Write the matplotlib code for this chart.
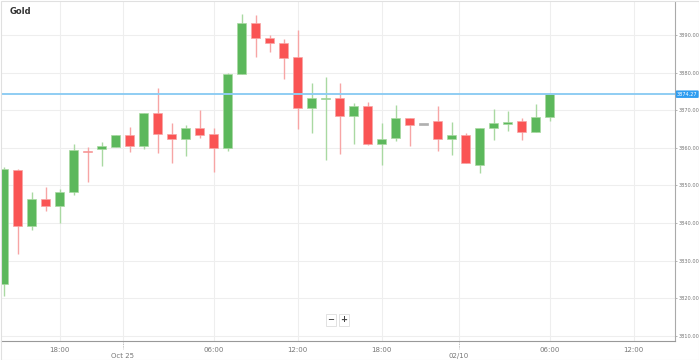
import numpy as np
import matplotlib
matplotlib.use("Agg")
import matplotlib.pyplot as plt
from matplotlib.patches import Rectangle

# hourly candles, Gold
opens = [3823.8, 3854.1, 3839.3, 3846.3, 3844.5, 3848.2, 3859.1, 3859.7, 3860.3, 3863.3,
         3860.6, 3869.2, 3863.6, 3862.3, 3865.3, 3863.8, 3859.9, 3879.6, 3893.2, 3889.3,
         3888.0, 3884.1, 3870.7, 3872.9, 3873.2, 3868.6, 3871.2, 3861.0, 3862.5, 3867.9,
         3866.1, 3867.1, 3862.3, 3863.4, 3855.5, 3865.2, 3866.3, 3867.1, 3864.2, 3868.2]
highs = [3854.9, 3854.4, 3848.3, 3849.5, 3849.2, 3861.0, 3860.3, 3861.6, 3863.4, 3865.5,
         3869.2, 3875.9, 3866.7, 3866.0, 3870.1, 3865.2, 3880.0, 3895.6, 3895.4, 3890.0,
         3888.9, 3891.3, 3877.3, 3878.9, 3877.2, 3871.8, 3872.2, 3866.7, 3871.4, 3868.0,
         3866.1, 3871.1, 3867.0, 3864.0, 3865.4, 3870.3, 3869.8, 3868.0, 3871.7, 3874.3]
lows = [3820.6, 3831.7, 3838.2, 3843.2, 3840.1, 3847.5, 3851.0, 3855.2, 3860.2, 3859.0,
        3859.6, 3858.6, 3855.9, 3857.9, 3862.5, 3853.7, 3859.3, 3879.6, 3884.1, 3885.6,
        3878.3, 3864.9, 3864.0, 3856.8, 3858.4, 3861.0, 3860.8, 3855.4, 3861.8, 3860.6,
        3866.1, 3859.2, 3858.0, 3855.9, 3853.4, 3862.0, 3864.5, 3862.1, 3864.2, 3867.2]
closes = [3854.3, 3839.2, 3846.3, 3844.5, 3848.2, 3859.4, 3858.8, 3860.5, 3863.3, 3860.6,
          3869.2, 3863.7, 3862.3, 3865.3, 3863.5, 3859.9, 3879.6, 3893.2, 3889.1, 3888.0,
          3883.8, 3870.7, 3873.2, 3873.3, 3868.6, 3871.2, 3860.9, 3862.4, 3868.0, 3866.0,
          3866.1, 3862.3, 3863.5, 3855.9, 3865.4, 3866.6, 3867.0, 3864.2, 3868.1, 3874.27]

last_price = 3874.27
yticks = [3810, 3820, 3830, 3840, 3850, 3860, 3870, 3880, 3890]
hour_pos = [4, 15, 21, 27, 39, 45]
hour_labels = ["18:00", "06:00", "12:00", "18:00", "06:00", "12:00"]
day_pos = [8.5, 32.5]
day_labels = ["Oct 25", "02/10"]

GREEN, RED, GREY = "#5cb85c", "#fa5454", "#b0b0b0"
GREEN_W, RED_W = "#a9d9a2", "#f7a5a5"

fig = plt.figure(figsize=(6.99, 3.6), dpi=100)
ax = fig.add_axes([1 / 699, 1 - 341 / 360, 674 / 699, 339 / 360])

x = np.arange(len(opens))
o, h, l, c = map(np.array, (opens, highs, lows, closes))
col = np.where(c > o, GREEN, np.where(c < o, RED, GREY))
wcol = np.where(c > o, GREEN_W, np.where(c < o, RED_W, GREY))

ax.vlines(x, l, h, colors=wcol, lw=1, zorder=2)
body = np.maximum(np.abs(c - o), 0.4)
bottom = np.minimum(o, c)
ax.bar(x, body, bottom=bottom, width=0.64, color=col, edgecolor=wcol,
       linewidth=0.5, zorder=3)

ax.axhline(last_price, color="#8fcdf3", lw=1.4, zorder=4)

ax.set_xlim(-0.18, 47.96)
ax.set_ylim(3808.67, 3898.77)

ax.set_yticks(yticks)
ax.set_yticklabels([f"{v:.2f}" for v in yticks])
ax.yaxis.tick_right()
ax.tick_params(axis="y", length=1.5, width=0.6, color="#aaaaaa", labelsize=3.6,
               labelcolor="#777777", pad=1)
ax.set_xticks(hour_pos + day_pos)
ax.set_xticklabels(hour_labels + [""] * len(day_pos))
ax.tick_params(axis="x", length=0, labelsize=5, labelcolor="#777777", pad=4)
for p, lab in zip(day_pos, day_labels):
    ax.text(p, -0.045, lab, transform=ax.get_xaxis_transform(), ha="center",
            va="center", fontsize=5, color="#777777", clip_on=False)
    ax.plot([p, p], [-0.004, -0.025], transform=ax.get_xaxis_transform(),
            color="#aaaaaa", lw=0.6, ls=(0, (1, 1)), clip_on=False)

ax.grid(True, color="#eeeeee", lw=0.8, zorder=0)
ax.set_axisbelow(True)
for s in ["top", "left"]:
    ax.spines[s].set_visible(False)
ax.spines["right"].set_color("#aaaaaa")
ax.spines["bottom"].set_color("#999999")
ax.spines["right"].set_linewidth(0.8)
ax.spines["bottom"].set_linewidth(0.8)

# last price tag
ax.text(1.003, last_price, f"{last_price:.2f}", transform=ax.get_yaxis_transform(),
        ha="left", va="center", fontsize=3.6, color="white", clip_on=False, zorder=6,
        bbox=dict(boxstyle="round,pad=0.25,rounding_size=0.2", fc="#2f9df0", ec="none"))

fig.text(10 / 699, 1 - 12 / 360, "Gold", fontsize=6, fontweight="bold",
         color="#333333", ha="left", va="center")

# zoom buttons
for xp, s in [(331, "\u2212"), (344, "+")]:
    fig.text(xp / 699, 1 - 320 / 360, s, fontsize=6, fontweight="bold", color="#444444",
             ha="center", va="center",
             bbox=dict(boxstyle="square,pad=0.2", fc="white", ec="#dddddd", lw=0.6))

fig.patches.append(Rectangle((0.5 / 699, 0.5 / 360), 698 / 699, 359 / 360,
                             transform=fig.transFigure, fill=False,
                             ec="#e0e0e0", lw=0.8))
fig.savefig("out.png", dpi=100)
